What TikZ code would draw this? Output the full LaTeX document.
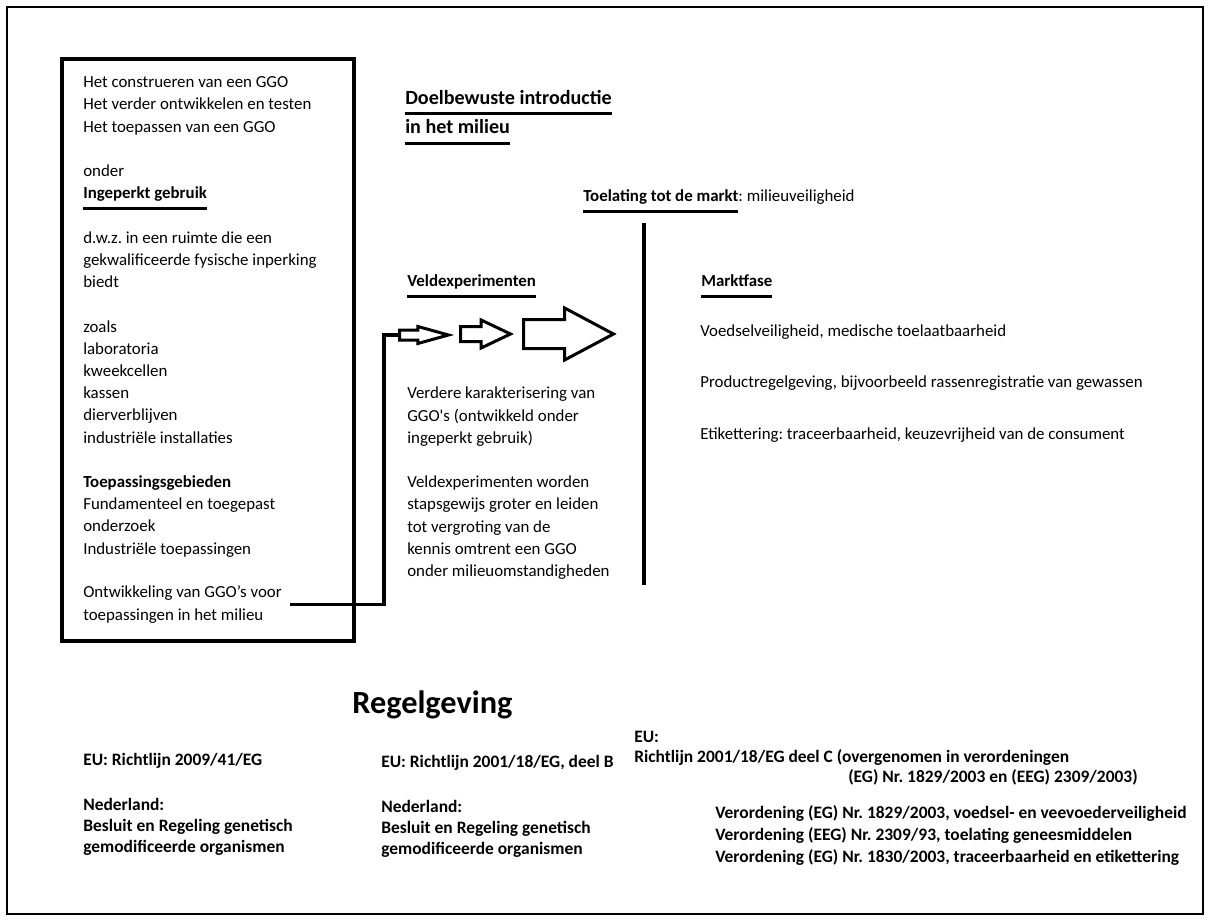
\documentclass[tikz,border=0pt]{standalone}
\usepackage{fontspec}
\setmainfont{Carlito}
\usetikzlibrary{shapes.arrows,positioning,calc}
\newsavebox{\ulbox}
\newcommand{\uln}[1]{\sbox{\ulbox}{#1}\rlap{\smash{\rule[-8pt]{\wd\ulbox}{2pt}}}\usebox{\ulbox}}
\frenchspacing
\begin{document}
\begin{tikzpicture}[
  x=0.25mm, y=-0.25mm,
  txt/.style={font={\fontsize{12}{15.8}\selectfont\lineskiplimit=-50pt}, align=left, inner sep=0pt, anchor=base west},
  hdr/.style={txt, font={\bfseries\fontsize{12}{15.8}\selectfont}},
  big/.style={txt, font={\bfseries\fontsize{14.3}{21.3}\selectfont\lineskiplimit=-50pt}},
  law/.style={txt, font={\bfseries\fontsize{12.4}{15}\selectfont\lineskiplimit=-50pt}},
  kader/.style={draw, line width=0.65mm},
  inbox/.style={draw, line width=1mm, inner sep=0pt},
  blk/.style={single arrow, draw, line width=0.75mm, inner xsep=0pt, outer sep=0pt, text height=0pt, text depth=0pt, single arrow head indent=0pt, anchor=tail},
  conn/.style={line width=0.8mm},
  streep/.style={line width=0.9mm}
]
\useasboundingbox (0,0) rectangle (1210,921);
\draw[kader] (7,7) rectangle (1203,914);

% ingeperkt gebruik (base = laatste regel)
\node[inbox, minimum width=73mm, minimum height=145.5mm] (lbox) at (208,350) {};
\node[txt] (ig) at (83,554.2) {Het construeren van een GGO\\
Het verder ontwikkelen en testen\\
Het toepassen van een GGO\\[15.8pt]
onder\\
\uln{\textbf{Ingeperkt gebruik}}\\[15.8pt]
d.w.z. in een ruimte die een\\
gekwalificeerde fysische inperking\\
biedt\\[15.8pt]
zoals\\
laboratoria\\
kweekcellen\\
kassen\\
dierverblijven\\
industriële installaties\\[15.8pt]
\textbf{Toepassingsgebieden}\\
Fundamenteel en toegepast\\
onderzoek\\
Industriële toepassingen};
\node[txt] (ontw) at (83,620.2) {Ontwikkeling van GGO’s voor\\toepassingen in het milieu};

% koppen
\node[big] (doel) at (405,134) {\uln{Doelbewuste introductie}\\\uln{in het milieu}};
\node[txt] (toel) at (583,202) {\uln{\textbf{Toelating tot de markt}}: milieuveiligheid};
\node[hdr] (veld) at (407,287) {\uln{Veldexperimenten}};
\node[hdr] (markt) at (701,287) {\uln{Marktfase}};

% veldexperimenten
\node[blk, minimum height=12.25mm, inner ysep=0.875mm, single arrow head extend=0.875mm, single arrow tip angle=31] (a1) at (399.5,335) {};
\node[blk, minimum height=12.5mm, inner ysep=1.5mm, single arrow head extend=1.625mm, single arrow tip angle=51] (a2) at (460.5,334) {};
\node[blk, minimum height=22.5mm, inner ysep=3.25mm, single arrow head extend=2.875mm, single arrow tip angle=56] (a3) at (523.5,334) {};
\node[txt] (verder) at (407,576.6) {Verdere karakterisering van\\
GGO\textquotesingle s (ontwikkeld onder\\
ingeperkt gebruik)\\[15.8pt]
Veldexperimenten worden\\
stapsgewijs groter en leiden\\
tot vergroting van de\\
kennis omtrent een GGO\\
onder milieuomstandigheden};

\draw[conn] ([xshift=2mm]ontw.east) -| ([xshift=-3.9mm]a1.tail) -- (a1.tail);

% markt
\coordinate (bartop) at (644,223);
\coordinate (barbot) at (644,585);
\draw[streep] (bartop) -- (barbot);
\node[txt, font={\fontsize{12}{36.3}\selectfont}] (mfase) at (700,439) {Voedselveiligheid, medische toelaatbaarheid\\
Productregelgeving, bijvoorbeeld rassenregistratie van gewassen\\
Etikettering: traceerbaarheid, keuzevrijheid van de consument};

% regelgeving
\node[txt, font={\bfseries\fontsize{23}{28}\selectfont}] (regel) at (352,713) {Regelgeving};
\node[law] (eu1) at (83,852.2) {EU: Richtlijn 2009/41/EG\\[17pt]
Nederland:\\
Besluit en Regeling genetisch\\
gemodificeerde organismen};
\node[law] (eu2) at (381,854.2) {EU: Richtlijn 2001/18/EG, deel B\\[17pt]
Nederland:\\
Besluit en Regeling genetisch\\
gemodificeerde organismen};
\node[law, font={\bfseries\fontsize{12.4}{14.2}\selectfont}] (eu3) at (634,762) {EU:\\
Richtlijn 2001/18/EG deel C (overgenomen in verordeningen};
\node[law] (eu3b) at (848,782) {(EG) Nr. 1829/2003 en (EEG) 2309/2003)};
\node[law, font={\bfseries\fontsize{12.4}{15.5}\selectfont}] (veror) at (715,862) {Verordening (EG) Nr. 1829/2003, voedsel- en veevoederveiligheid\\
Verordening (EEG) Nr. 2309/93, toelating geneesmiddelen\\
Verordening (EG) Nr. 1830/2003, traceerbaarheid en etikettering};
\end{tikzpicture}
\end{document}
